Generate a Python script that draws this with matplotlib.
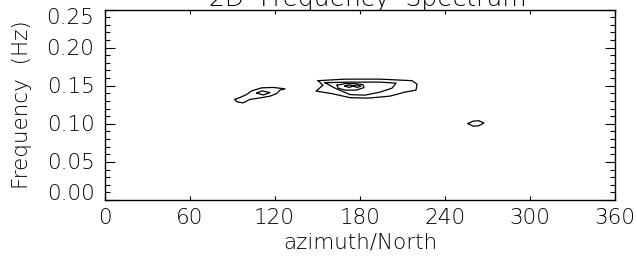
import matplotlib
matplotlib.use("Agg")
import matplotlib.pyplot as plt

# ---- data (azimuth in degrees from North, frequency in Hz) ----
x_ticks = [0, 60, 120, 180, 240, 300, 360]
y_ticks = [0.00, 0.05, 0.10, 0.15, 0.20, 0.25]
y_tick_labels = ["0.00", "0.05", "0.10", "0.15", "0.20", "0.25"]

# contour lines (azimuth, frequency)
c1_outer_az = [92.0, 95.6, 100.3, 103.8, 110.9, 119.0, 127.3, 123.8, 121.4, 116.8, 110.1, 102.6, 97.7, 93.4, 92.0]
c1_outer_f = [0.1320, 0.1346, 0.1385, 0.1433, 0.1472, 0.1477, 0.1459, 0.1442, 0.1398, 0.1363, 0.1341, 0.1320, 0.1275, 0.1288, 0.1320]
c1_inner_az = [107.5, 111.0, 116.7, 112.0, 107.5]
c1_inner_f = [0.1402, 0.1432, 0.1410, 0.1378, 0.1402]

c2_l1_az = [150.6, 154.1, 149.2, 160.4, 173.1, 185.8, 201.3, 211.9, 219.7, 220.4, 216.9, 194.3, 169.6, 150.6]
c2_l1_f = [0.1566, 0.1507, 0.1429, 0.1396, 0.1343, 0.1337, 0.1363, 0.1416, 0.1442, 0.1520, 0.1566, 0.1586, 0.1586, 0.1566]
c2_l2_az = [155.5, 162.5, 173.1, 183.7, 194.3, 202.8, 205.6, 194.3, 173.1, 155.5]
c2_l2_f = [0.1540, 0.1468, 0.1383, 0.1376, 0.1416, 0.1468, 0.1534, 0.1547, 0.1547, 0.1540]
c2_l3_az = [164.0, 169.6, 176.7, 182.3, 183.0, 177.4, 169.6, 164.7, 164.0]
c2_l3_f = [0.1507, 0.1527, 0.1527, 0.1514, 0.1475, 0.1442, 0.1442, 0.1468, 0.1507]
c2_l4a_az = [169.6, 172.5, 175.3, 172.5, 169.6]
c2_l4a_f = [0.1494, 0.1510, 0.1494, 0.1478, 0.1494]
c2_l4b_az = [175.3, 178.1, 180.9, 178.1, 175.3]
c2_l4b_f = [0.1494, 0.1510, 0.1494, 0.1478, 0.1494]

c3_az = [256.3, 260.0, 264.0, 267.6, 264.0, 260.0, 256.3]
c3_f = [0.1003, 0.1035, 0.1040, 0.1010, 0.0975, 0.0968, 0.1003]

contours = [
    (c1_outer_az, c1_outer_f), (c1_inner_az, c1_inner_f),
    (c2_l1_az, c2_l1_f), (c2_l2_az, c2_l2_f), (c2_l3_az, c2_l3_f),
    (c2_l4a_az, c2_l4a_f), (c2_l4b_az, c2_l4b_f),
    (c3_az, c3_f),
]

# ---- figure ----
W, H = 637, 260
fig = plt.figure(figsize=(W / 100, H / 100), dpi=100)
L, R, B, T = 104.5, 615.0, 200.0, 9.5
ax = fig.add_axes([L / W, 1 - B / H, (R - L) / W, (B - T) / H])

FONT = "DejaVu Sans"
FS = 15.5
FW = "light"

for az, f in contours:
    ax.plot(az, f, color="black", lw=0.9)

ax.set_xlim(0, 360)
ax.set_ylim(0, 0.25)

ax.set_xticks(x_ticks)
ax.set_xticklabels([str(v) for v in x_ticks], fontsize=FS, family=FONT, fontweight=FW)
ax.set_yticks(y_ticks)
ax.set_yticklabels([""] * len(y_ticks))
ax.set_yticks([i * 0.01 for i in range(26)], minor=True)

ax.tick_params(axis="x", which="major", direction="in", length=2.8, width=0.8,
               top=True, bottom=True, pad=6)
ax.tick_params(axis="y", which="major", direction="in", length=7.2, width=0.8,
               left=True, right=True)
ax.tick_params(axis="y", which="minor", direction="in", length=3.6, width=0.8,
               left=True, right=True)
for s in ax.spines.values():
    s.set_linewidth(1.0)

# y tick labels (end labels sit inside the axis range as in the original)
for v, lab in zip(y_ticks, y_tick_labels):
    dy = 0
    if v == y_ticks[0]:
        dy = 7
    elif v == y_ticks[-1]:
        dy = -7
    ax.annotate(lab, xy=(0, v), xycoords=("axes fraction", "data"),
                xytext=(-10, dy - 1.5), textcoords="offset pixels",
                ha="right", va="center", fontsize=FS, family=FONT, fontweight=FW)

ax.set_xlabel("azimuth/North", fontsize=FS, family=FONT, fontweight=FW)
ax.xaxis.set_label_coords((360 - L) / (R - L), -(242 - B) / (B - T))
ax.xaxis.label.set_va("center")
ax.set_ylabel("Frequency  (Hz)", fontsize=FS, family=FONT, fontweight=FW)
ax.yaxis.set_label_coords(-(L - 22) / (R - L), 0.5)
ax.yaxis.label.set_va("center")

fig.text(((L + R) / 2 + 8) / W, 1 - 6 / H, "2D  Frequency  Spectrum", ha="center", va="baseline",
         fontsize=18, family=FONT, fontweight=FW)

fig.savefig("out.png", dpi=100)
